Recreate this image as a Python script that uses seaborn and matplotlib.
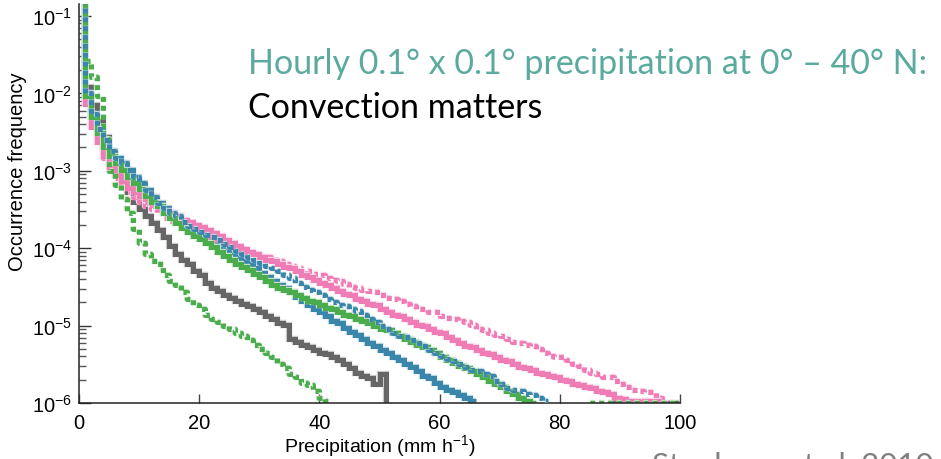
import numpy as np
import matplotlib
matplotlib.use("Agg")
import matplotlib.pyplot as plt
import matplotlib.patheffects as pe
from matplotlib.colors import to_rgb
from matplotlib.ticker import LogLocator, LogFormatterSciNotation, NullFormatter, FixedLocator
import seaborn as sns

# ---------------------------------------------------------------------------
# Occurrence frequency per 1 mm/h precipitation bin, stored as log10 values.
# Each list starts at the bin given by the matching *_start value.
# ---------------------------------------------------------------------------
gray_start = 0
gray_solid = [-0.70, -1.92, -2.15, -2.36, -2.56, -2.78, -2.97, -3.13, -3.28, -3.40,
              -3.50, -3.59, -3.68, -3.77, -3.86, -3.97, -4.07, -4.15, -4.21, -4.29,
              -4.35, -4.45, -4.51, -4.55, -4.60, -4.64, -4.68, -4.72, -4.75, -4.79,
              -4.83, -4.88, -4.92, -4.96, -4.99, -5.17, -5.21, -5.25, -5.28, -5.32,
              -5.35, -5.37, -5.40, -5.44, -5.50, -5.55, -5.61, -5.65, -5.68, -5.75,
              -5.62, -7.00]
gray_tail_start = 88
gray_tail = [-6.0] * 12

blue_start = 0
blue_solid = [-0.75, -1.99, -2.26, -2.46, -2.60, -2.74, -2.84, -2.90, -2.99, -3.08,
              -3.16, -3.25, -3.34, -3.41, -3.48, -3.54, -3.59, -3.66, -3.71, -3.75,
              -3.80, -3.85, -3.89, -3.93, -3.99, -4.05, -4.10, -4.16, -4.21, -4.26,
              -4.32, -4.37, -4.42, -4.47, -4.52, -4.57, -4.63, -4.68, -4.73, -4.78,
              -4.83, -4.88, -4.94, -4.97, -5.03, -5.08, -5.12, -5.17, -5.22, -5.26,
              -5.31, -5.36, -5.40, -5.45, -5.50, -5.54, -5.59, -5.65, -5.68, -5.74,
              -5.79, -5.83, -5.86, -5.90, -5.94, -5.98]
blue_dotted = [-0.75, -1.99, -2.26, -2.46, -2.60, -2.74, -2.84, -2.90, -2.99, -3.08,
               -3.16, -3.25, -3.34, -3.41, -3.48, -3.54, -3.59, -3.66, -3.71, -3.75,
               -3.79, -3.83, -3.86, -3.90, -3.94, -3.99, -4.03, -4.07, -4.11, -4.15,
               -4.19, -4.23, -4.26, -4.30, -4.34, -4.38, -4.45, -4.50, -4.54, -4.57,
               -4.61, -4.65, -4.69, -4.73, -4.75, -4.78, -4.81, -4.86, -4.91, -4.95,
               -5.00, -5.05, -5.10, -5.13, -5.15, -5.19, -5.23, -5.26, -5.31, -5.35,
               -5.39, -5.43, -5.46, -5.50, -5.53, -5.57, -5.59, -5.62, -5.65, -5.71,
               -5.76, -5.80, -5.83, -5.85, -5.88, -5.90, -5.94, -5.98]

green_start = 0
green_solid = [-0.50, -2.03, -2.30, -2.51, -2.69, -2.81, -2.90, -2.99, -3.08, -3.16,
               -3.23, -3.32, -3.40, -3.46, -3.54, -3.61, -3.67, -3.74, -3.79, -3.84,
               -3.88, -3.93, -3.99, -4.05, -4.10, -4.15, -4.20, -4.24, -4.28, -4.33,
               -4.37, -4.42, -4.47, -4.51, -4.54, -4.57, -4.60, -4.64, -4.68, -4.70,
               -4.73, -4.77, -4.79, -4.83, -4.86, -4.88, -4.91, -4.94, -4.97, -5.00,
               -5.04, -5.06, -5.10, -5.13, -5.17, -5.21, -5.25, -5.28, -5.32, -5.36,
               -5.40, -5.44, -5.48, -5.52, -5.55, -5.59, -5.63, -5.67, -5.71, -5.75,
               -5.79, -5.84, -5.88, -5.93, -5.97, -6.00]
green_dotted = [-0.60, -1.58, -1.79, -2.03, -2.59, -3.00, -3.18, -3.36, -3.54, -3.75,
                -3.93, -4.07, -4.16, -4.21, -4.34, -4.42, -4.48, -4.57, -4.65, -4.73,
                -4.79, -4.86, -4.91, -4.95, -5.00, -5.05, -5.09, -5.14, -5.19, -5.25,
                -5.30, -5.36, -5.41, -5.49, -5.55, -5.62, -5.67, -5.74, -5.77, -5.85,
                -5.93, -5.98]
green_dotted_tail_start = 85
green_dotted_tail = [-6.0] * 15

pink_start = 0
pink_solid = [-0.80, -2.14, -2.43, -2.63, -2.81, -2.95, -3.05, -3.13, -3.22, -3.27,
              -3.32, -3.36, -3.41, -3.46, -3.52, -3.55, -3.59, -3.63, -3.66, -3.70,
              -3.72, -3.76, -3.80, -3.84, -3.89, -3.93, -3.97, -4.01, -4.05, -4.08,
              -4.11, -4.15, -4.17, -4.20, -4.24, -4.26, -4.30, -4.34, -4.37, -4.41,
              -4.45, -4.47, -4.51, -4.55, -4.59, -4.61, -4.65, -4.68, -4.72, -4.74,
              -4.78, -4.82, -4.86, -4.88, -4.92, -4.95, -4.99, -5.01, -5.05, -5.08,
              -5.10, -5.15, -5.18, -5.22, -5.26, -5.28, -5.32, -5.35, -5.37, -5.41,
              -5.44, -5.46, -5.49, -5.53, -5.55, -5.58, -5.61, -5.62, -5.65, -5.67,
              -5.70, -5.72, -5.75, -5.77, -5.79, -5.81, -5.84, -5.86, -5.89, -5.94,
              -5.95, -5.97, -5.98, -5.99, -5.98, -5.97, -5.98]
pink_dotted = [-0.80, -2.14, -2.43, -2.63, -2.83, -2.97, -3.09, -3.18, -3.27, -3.34,
               -3.40, -3.45, -3.50, -3.55, -3.61, -3.65, -3.68, -3.72, -3.76, -3.80,
               -3.84, -3.86, -3.89, -3.92, -3.94, -3.97, -3.99, -4.02, -4.05, -4.07,
               -4.10, -4.12, -4.15, -4.17, -4.20, -4.23, -4.25, -4.28, -4.29, -4.33,
               -4.35, -4.38, -4.41, -4.43, -4.46, -4.50, -4.51, -4.54, -4.55, -4.57,
               -4.60, -4.64, -4.66, -4.68, -4.72, -4.75, -4.78, -4.79, -4.82, -4.83,
               -4.87, -4.90, -4.91, -4.94, -4.95, -4.99, -5.04, -5.06, -5.09, -5.12,
               -5.13, -5.17, -5.21, -5.23, -5.25, -5.26, -5.30, -5.36, -5.39, -5.40,
               -5.41, -5.45, -5.49, -5.52, -5.57, -5.61, -5.63, -5.66, -5.67, -5.71,
               -5.75, -5.79, -5.83, -5.85, -5.86, -5.86, -5.94, -6.00]

x_ticks = [0, 20, 40, 60, 80, 100]
y_ticks = [1e-6, 1e-5, 1e-4, 1e-3, 1e-2, 1e-1]

GRAY = "#666666"
BLUE = "#3a86aa"
GREEN = "#4aac4c"
PINK = "#f07cb5"
TEAL = "#5aaa9d"

sns.set_theme(style="ticks")
plt.rcParams["font.family"] = ["Liberation Sans", "DejaVu Sans"]
plt.rcParams["mathtext.fontset"] = "custom"
plt.rcParams["mathtext.rm"] = "Liberation Sans"
plt.rcParams["mathtext.it"] = "Liberation Sans:italic"
plt.rcParams["mathtext.bf"] = "Liberation Sans:bold"
plt.rcParams["mathtext.default"] = "regular"
# dash lengths are given in points, independent of line width
plt.rcParams["lines.scale_dashes"] = False

fig = plt.figure(figsize=(9.41, 4.60), dpi=100)
ax = fig.add_axes([79 / 941, 56 / 460, 601 / 941, 399 / 460])
ax.set_yscale("log")


def lighten(color, amount):
    r, g, b = to_rgb(color)
    return (r + (1 - r) * amount, g + (1 - g) * amount, b + (1 - b) * amount)


def draw_steps(start, log_vals, color, dotted, z):
    """Draw one histogram as a thick step line starting at bin `start`."""
    edges = np.arange(start, start + len(log_vals) + 1)
    freq = 10.0 ** np.append(np.asarray(log_vals, float), log_vals[-1])
    style = (0, (3.5, 2.9)) if dotted else "-"
    sns.lineplot(
        x=edges, y=freq, ax=ax, color=color, linewidth=3.6,
        linestyle=style, drawstyle="steps-post", zorder=z,
        solid_capstyle="butt", dash_capstyle="butt", solid_joinstyle="miter",
        path_effects=[pe.Stroke(linewidth=4.6, foreground=lighten(color, 0.65)),
                      pe.Normal()],
    )


draw_steps(gray_start, gray_solid, GRAY, False, 2.0)
draw_steps(gray_tail_start, gray_tail, GRAY, False, 2.0)
draw_steps(blue_start, blue_solid, BLUE, False, 2.1)
draw_steps(pink_start, pink_dotted, PINK, True, 2.2)
draw_steps(pink_start, pink_solid, PINK, False, 2.3)
draw_steps(green_start, green_dotted, GREEN, True, 2.4)
draw_steps(green_dotted_tail_start, green_dotted_tail, GREEN, True, 2.4)
draw_steps(green_start, green_solid, GREEN, False, 2.5)
draw_steps(blue_start, blue_dotted, BLUE, True, 2.6)

ax.set_xlim(0, 100)
ax.set_ylim(1e-6, 10 ** (-0.845))

sns.despine(ax=ax)
for side in ("left", "bottom"):
    ax.spines[side].set_color("#222222")
    ax.spines[side].set_linewidth(1.1)

ax.xaxis.set_major_locator(FixedLocator(x_ticks))
ax.set_xticklabels([str(v) for v in x_ticks])
ax.yaxis.set_major_locator(FixedLocator(y_ticks))
ax.yaxis.set_major_formatter(LogFormatterSciNotation())
ax.yaxis.set_minor_locator(LogLocator(base=10, subs=np.arange(2, 10), numticks=20))
ax.yaxis.set_minor_formatter(NullFormatter())

ax.tick_params(axis="x", which="major", direction="in", length=6.5, width=1.0,
               color="#444444", pad=7.5, labelsize=14.5, labelcolor="black")
ax.tick_params(axis="y", which="major", direction="in", length=8.5, width=1.0,
               color="#333333", pad=5, labelsize=14.5, labelcolor="black")
ax.tick_params(axis="y", which="minor", direction="in", length=5, width=1.0,
               color="#555555")

ax.set_xlabel("Precipitation (mm h$^{-1}$)", fontsize=14, color="black", va="top")
ax.xaxis.set_label_coords(0.5, -0.073)
ax.set_ylabel("Occurrence frequency", fontsize=14.5, color="black")
ax.yaxis.set_label_coords(-0.086, 0.581)

title_font = ["Lato", "DejaVu Sans"]
fig.text(248 / 941, (460 - 74) / 460, "Hourly 0.1° x 0.1° precipitation at 0° – 40° N:",
         fontsize=24.5, color=TEAL, family=title_font, ha="left", va="baseline")
fig.text(248 / 941, (460 - 118) / 460, "Convection matters",
         fontsize=24.5, color="black", family=title_font, ha="left", va="baseline")
fig.text(652 / 941, (460 - 475) / 460, "Stephens et al. 2010",
         fontsize=22.5, color="#7f7f7f", family=title_font, ha="left", va="baseline")

fig.savefig("out.png", dpi=100)
